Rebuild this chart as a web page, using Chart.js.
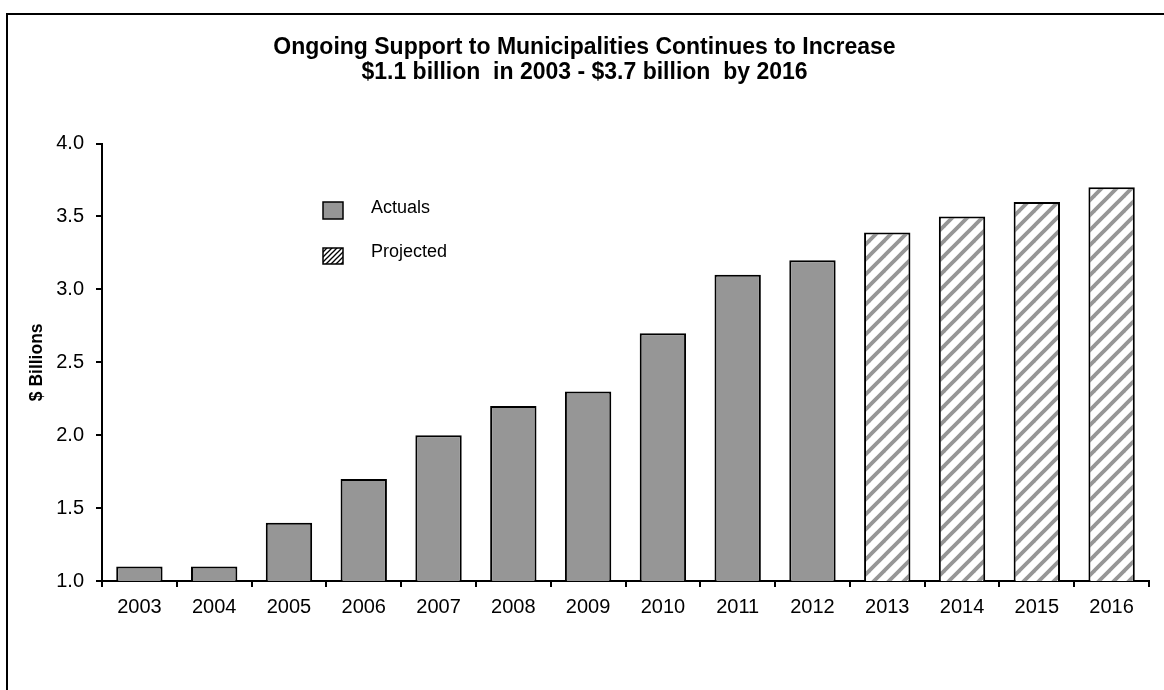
<!DOCTYPE html>
<html>
<head>
<meta charset="utf-8">
<script src="https://cdn.jsdelivr.net/npm/chart.js@4/dist/chart.umd.min.js"></script>
<style>
  html, body { margin: 0; padding: 0; width: 1164px; height: 690px; overflow: hidden; background: #fff; }
  #frame { position: absolute; left: 6px; top: 13px; width: 1200px; height: 720px; border: 2px solid #000; box-sizing: border-box; }
  #wrap { position: absolute; left: 0; top: 0; width: 1164px; height: 690px; }
</style>
</head>
<body>
<div id="frame"></div>
<div id="wrap"><canvas id="c" width="1164" height="690"></canvas></div>
<script>
// ---- Data ----
const categories = ['2003','2004','2005','2006','2007','2008','2009','2010','2011','2012','2013','2014','2015','2016'];
const actualYears = ['2003','2004','2005','2006','2007','2008','2009','2010','2011','2012'];
const actualValues = [1.1, 1.1, 1.4, 1.7, 2.0, 2.2, 2.3, 2.7, 3.1, 3.2];
const projectedYears = ['2013','2014','2015','2016'];
const projectedValues = [3.39, 3.5, 3.6, 3.7];
const titleLines = ['Ongoing Support to Municipalities Continues to Increase', '$1.1 billion  in 2003 - $3.7 billion  by 2016'];
const yAxisTitle = '$ Billions';
const seriesNames = ['Actuals', 'Projected'];

const FONT = '"Liberation Sans", Arial, Helvetica, sans-serif';
const GRAY = '#969696';

function makePattern(size, color, width) {
  const p = document.createElement('canvas');
  p.width = size; p.height = size;
  const g = p.getContext('2d');
  g.fillStyle = '#fff';
  g.fillRect(0, 0, size, size);
  g.strokeStyle = color;
  g.lineWidth = width;
  g.lineCap = 'square';
  for (const off of [-size, 0, size]) {
    g.beginPath();
    g.moveTo(off - 2, size + 2);
    g.lineTo(off + size + 2, -2);
    g.stroke();
  }
  return g.createPattern(p, 'repeat');
}
const ctx = document.getElementById('c').getContext('2d');
const hatch = makePattern(15, GRAY, 3.8);
const legendHatch = makePattern(5, '#000', 1.3);

const actualData = categories.map(c => { const i = actualYears.indexOf(c); return i >= 0 ? actualValues[i] : null; });
const projectedData = categories.map(c => { const i = projectedYears.indexOf(c); return i >= 0 ? projectedValues[i] : null; });

const legendPlugin = {
  id: 'customLegend',
  afterDraw(chart) {
    const g = chart.ctx;
    g.save();
    const items = [
      { fill: GRAY, y: 202, h: 17 },
      { fill: legendHatch, y: 248, h: 16 }
    ];
    items.forEach((it, i) => {
      g.fillStyle = it.fill;
      g.fillRect(323, it.y, 20, it.h);
      g.strokeStyle = '#000';
      g.lineWidth = 1.5;
      g.strokeRect(323, it.y, 20, it.h);
      g.fillStyle = '#000';
      g.font = '18px ' + FONT;
      g.textBaseline = 'middle';
      g.textAlign = 'left';
      g.fillText(seriesNames[i], 371, i === 0 ? 208 : 252);
    });
    g.restore();
  }
};

Chart.defaults.color = '#000';
Chart.defaults.font.family = FONT;

new Chart(ctx, {
  type: 'bar',
  data: {
    labels: categories,
    datasets: [
      { label: seriesNames[0], data: actualData, backgroundColor: GRAY, borderColor: '#000', borderWidth: 2, borderSkipped: false, barPercentage: 0.62, categoryPercentage: 1 },
      { label: seriesNames[1], data: projectedData, backgroundColor: hatch, borderColor: '#000', borderWidth: 2, borderSkipped: false, barPercentage: 0.62, categoryPercentage: 1 }
    ]
  },
  options: {
    responsive: false,
    animation: false,
    layout: { padding: { left: 20, right: 15, top: 0, bottom: 0 } },
    plugins: {
      legend: { display: false },
      tooltip: { enabled: false },
      title: {
        display: true,
        text: titleLines,
        color: '#000',
        font: { size: 23, weight: 'bold', family: FONT, lineHeight: 1.1 },
        padding: { top: 35, bottom: 58 }
      }
    },
    scales: {
      x: {
        stacked: true,
        offset: true,
        grid: { display: true, offset: true, drawOnChartArea: false, drawTicks: true, tickLength: 6, color: '#000', lineWidth: 2 },
        border: { display: true, color: '#000', width: 2 },
        ticks: { font: { size: 20, family: FONT }, color: '#000', padding: 8, maxRotation: 0 },
        afterFit(scale) { scale.height = 109; }
      },
      y: {
        min: 1.0,
        max: 4.0,
        grid: { display: true, drawOnChartArea: false, drawTicks: true, tickLength: 6, color: '#000', lineWidth: 2 },
        border: { display: true, color: '#000', width: 2 },
        ticks: { stepSize: 0.5, font: { size: 20, family: FONT }, color: '#000', padding: 12, callback: v => Number(v).toFixed(1) },
        title: { display: true, text: yAxisTitle, color: '#000', font: { size: 17.5, weight: 'bold', family: FONT }, padding: { top: 7, bottom: 0 } },
        afterFit(scale) { scale.width = 82; }
      }
    }
  },
  plugins: [legendPlugin]
});
</script>
</body>
</html>
